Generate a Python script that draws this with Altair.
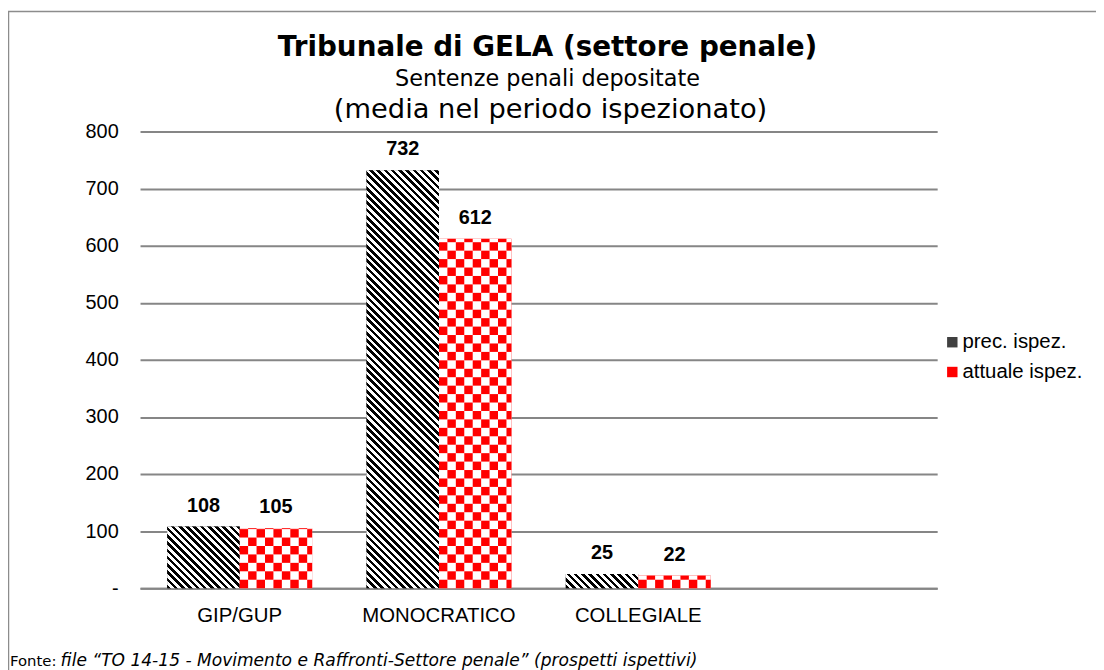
import json
import altair as alt
import pandas as pd

# ---------------- dati ----------------
CATEGORIE = ["GIP/GUP", "MONOCRATICO", "COLLEGIALE"]
CATEGORIA_VUOTA = " "          # quarta posizione vuota del grafico originale
SERIE = ["prec. ispez.", "attuale ispez."]
VALORI_PREC = [108, 732, 25]
VALORI_ATTUALE = [105, 612, 22]
TICK_Y = [0, 100, 200, 300, 400, 500, 600, 700, 800]
TITOLO = "Tribunale di GELA (settore penale)"
SOTTOTITOLO = ["Sentenze penali depositate", "(media nel periodo ispezionato)"]
FONTE_ETICHETTA = "Fonte:"
FONTE_TESTO = "file \u201cTO  14-15 - Movimento e Raffronti-Settore penale\u201d (prospetti ispettivi)"

# ---------------- stile / layout ----------------
W, H = 803, 460
Y_MAX = 800
GAP = 0.75                      # gap width 75% (Excel)
PAD_IN = GAP / (2 + GAP)
PAD_OUT = PAD_IN / 2
DOMINIO_X = CATEGORIE + [CATEGORIA_VUOTA]
N_SLOT = len(DOMINIO_X)
STEP_PX = W / N_SLOT
BAR_PX = STEP_PX * (1 - PAD_IN) / 2
PX_PER_VAL = H / Y_MAX
CELLA_PX = 8.5                  # lato quadretto scacchiera
PERIODO_PX = 7.3                # passo del tratteggio diagonale
QUOTA_NERO = 0.5
GRIGIO = "#868686"
GRIGIO_CORNICE = "#8c8c8c"
ROSSO = "#ff0000"
FONT_ASSI = "Liberation Sans"
FONT_TITOLO = "DejaVu Sans"
TOP_CORNICE = -121
DX_TITOLO = 9

righe = []
for c, p, a in zip(CATEGORIE, VALORI_PREC, VALORI_ATTUALE):
    righe.append({"categoria": c, "serie": SERIE[0], "valore": p})
    righe.append({"categoria": c, "serie": SERIE[1], "valore": a})
df = pd.DataFrame(righe)

x_scale = alt.Scale(domain=DOMINIO_X, paddingInner=PAD_IN, paddingOuter=PAD_OUT)
x_axis = alt.Axis(title=None, labelAngle=0, labelFont=FONT_ASSI, labelFontSize=20.5,
                  labelColor="black", labelPadding=18, ticks=False,
                  domainColor=GRIGIO, domainWidth=2, grid=False)
x_off = alt.XOffset("serie:N", scale=alt.Scale(domain=SERIE, paddingInner=0, paddingOuter=0))
y_scale = alt.Scale(domain=[0, Y_MAX], nice=False)
y_axis = alt.Axis(title=None, values=TICK_Y,
                  labelExpr="datum.value === 0 ? '-' : format(datum.value, 'd')",
                  labelFont=FONT_ASSI, labelFontSize=20, labelColor="black",
                  labelPadding=22, ticks=False, domain=False,
                  gridColor=GRIGIO, gridWidth=2)


def x_enc(axis=True):
    return alt.X("categoria:N", scale=x_scale, axis=x_axis if axis else None)


def y_enc(campo="valore:Q"):
    return alt.Y(campo, scale=y_scale, axis=y_axis)


# barre di base (forniscono assi e legenda)
base = alt.Chart(df).mark_bar().encode(
    x=x_enc(True), xOffset=x_off, y=y_enc(),
    color=alt.Color("serie:N",
                    scale=alt.Scale(domain=SERIE, range=["#404040", ROSSO]),
                    legend=alt.Legend(title=None, orient="none", legendX=808, legendY=202,
                                      direction="vertical", symbolType="square",
                                      symbolSize=110, symbolStrokeWidth=0,
                                      labelFont=FONT_ASSI, labelFontSize=20.5,
                                      labelColor="black", labelOffset=0,
                                      rowPadding=9, padding=0)),
)

# fondo bianco per la scacchiera
bianco = alt.Chart(df).transform_filter(alt.datum.serie == SERIE[1]).mark_bar(
    fill="white").encode(x=x_enc(False), xOffset=x_off, y=y_enc())


def tratteggio(valore):
    """Gradiente a strisce diagonali per una barra di dato valore."""
    h = valore * PX_PER_VAL
    r = h / BAR_PX
    s = (1 + r) / (1 + r * r)
    dt = PERIODO_PX / (BAR_PX + h)
    stops = []
    k = 0
    while k * dt < 1:
        t0 = round(k * dt, 6)
        t1 = round(min(k * dt + dt * QUOTA_NERO, 1), 6)
        t2 = round(min((k + 1) * dt, 1), 6)
        stops += [{"offset": t0, "color": "black"}, {"offset": t1, "color": "black"},
                  {"offset": t1, "color": "white"}, {"offset": t2, "color": "white"}]
        k += 1
    return {"gradient": "linear", "x1": 0, "y1": 1, "x2": s, "y2": 1 - s * r,
            "stops": stops}


tratteggi = [
    alt.Chart(df).transform_filter(
        (alt.datum.categoria == c) & (alt.datum.serie == SERIE[0])
    ).mark_bar(fill=tratteggio(v)).encode(x=x_enc(False), xOffset=x_off, y=y_enc())
    for c, v in zip(CATEGORIE, VALORI_PREC)
]

etichette = alt.Chart(df).mark_text(
    font=FONT_ASSI, fontSize=20, fontWeight="bold", color="black",
    baseline="middle", dy=-21
).encode(x=x_enc(False), xOffset=x_off, y=y_enc(), text="valore:Q")

# scacchiera rossa
cx = CELLA_PX / STEP_PX
cv = CELLA_PX / PX_PER_VAL
larg = (1 - PAD_IN) / 2
dom_js = json.dumps(DOMINIO_X)
serie_js = json.dumps(SERIE)
scacchi = (
    alt.Chart(df)
    .transform_filter(alt.datum.serie == SERIE[1])
    .transform_calculate(
        sx=f"indexof({dom_js}, datum.categoria) + {PAD_OUT} + indexof({serie_js}, datum.serie) * {larg}")
    .transform_calculate(righe=f"sequence(0, ceil(datum.valore / {cv}))")
    .transform_calculate(colonne=f"sequence(0, ceil({larg} / {cx}))")
    .transform_flatten(["righe"], as_=["riga"])
    .transform_flatten(["colonne"], as_=["col"])
    .transform_calculate(x0=f"datum.sx + datum.col * {cx}")
    .transform_calculate(x1=f"min(datum.sx + (datum.col + 1) * {cx}, datum.sx + {larg})")
    .transform_calculate(y0=f"datum.riga * {cv}")
    .transform_calculate(y1=f"min((datum.riga + 1) * {cv}, datum.valore)")
    .transform_filter("(datum.riga + datum.col) % 2 === 0")
    .mark_rect(fill=ROSSO)
    .encode(
        x=alt.X("x0:Q", scale=alt.Scale(domain=[0, N_SLOT], nice=False, zero=False), axis=None),
        x2="x1:Q",
        y=y_enc("y0:Q"),
        y2="y1:Q",
    )
)

uno = pd.DataFrame({"k": [0]})
cornice_top = alt.Chart(uno).mark_rule(color=GRIGIO_CORNICE, strokeWidth=1.5).encode(
    x=alt.value(-133), x2=alt.value(980), y=alt.value(TOP_CORNICE))
cornice_sx = alt.Chart(uno).mark_rule(color=GRIGIO_CORNICE, strokeWidth=1.5).encode(
    x=alt.value(-132.5), y=alt.value(TOP_CORNICE), y2=alt.value(560))
riga2 = alt.Chart(uno).mark_text(
    text=SOTTOTITOLO[1], align="center", baseline="middle", font=FONT_TITOLO,
    fontSize=27.5, color="black").encode(x=alt.value(W / 2 + DX_TITOLO + 3), y=alt.value(-22))
fonte1 = alt.Chart(uno).mark_text(
    text=FONTE_ETICHETTA, align="left", baseline="middle", font=FONT_TITOLO,
    fontSize=15, color="black").encode(x=alt.value(-131), y=alt.value(533))
fonte2 = alt.Chart(uno).mark_text(
    text=FONTE_TESTO, align="left", baseline="middle", font=FONT_TITOLO,
    fontSize=17.2, fontStyle="italic", color="black").encode(x=alt.value(-80), y=alt.value(533))

chart = alt.layer(
    base, bianco, *tratteggi, etichette, scacchi,
    cornice_top, cornice_sx, riga2, fonte1, fonte2
).resolve_scale(
    x="independent"
).properties(
    width=W, height=H,
    title=alt.TitleParams(
        text=TITOLO, subtitle=SOTTOTITOLO[0], font=FONT_TITOLO, fontSize=28,
        fontWeight="bold", color="black", subtitleFont=FONT_TITOLO,
        subtitleFontSize=22.5, subtitleColor="black", subtitleLineHeight=30,
        subtitlePadding=7, anchor="middle", frame="group", dx=DX_TITOLO,
        offset=-80.75),
    padding={"left": 133, "top": 122, "right": 160, "bottom": 80},
    autosize=alt.AutoSizeParams(type="none"),
).configure_view(stroke=None)

chart.save("out.html", embed_options={"renderer": "svg", "actions": False})
